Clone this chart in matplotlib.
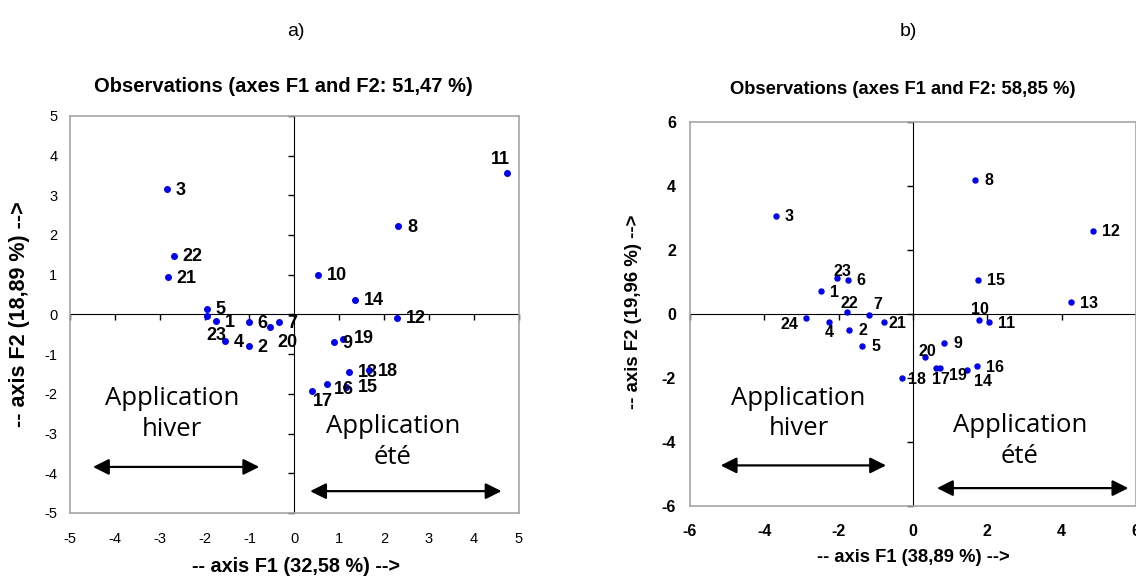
#Two PCA observation maps (winter / summer application)
import numpy as np
import matplotlib.pyplot as plt
from matplotlib.ticker import MultipleLocator

#################################################
# Data
#################################################
# a) axes F1 and F2: 51,47 %
labels_a = [str(i) for i in range(1, 24)]
f1_a = [-1.75, -1.02, -2.84, -1.55, -1.95, -1.02, -0.35, 2.31, 0.88, 0.52, 4.74, 2.28,
        1.21, 1.35, 1.16, 0.72, 0.39, 1.66, 1.09, -0.55, -2.82, -2.69, -1.95]
f2_a = [-0.17, -0.80, 3.15, -0.68, 0.14, -0.20, -0.20, 2.22, -0.70, 1.00, 3.55, -0.09,
        -1.45, 0.37, -1.83, -1.74, -1.93, -1.40, -0.61, -0.32, 0.94, 1.48, -0.05]

# b) axes F1 and F2: 58,85 %
labels_b = [str(i) for i in range(1, 25)]
f1_b = [-2.47, -1.72, -3.69, -2.26, -1.36, -1.76, -1.19, 1.67, 0.84, 1.78, 2.05, 4.83,
        4.26, 1.44, 1.74, 1.71, 0.62, -0.30, 0.72, 0.33, -0.78, -1.78, -2.05, -2.88]
f2_b = [0.70, -0.49, 3.07, -0.24, -0.99, 1.06, -0.04, 4.20, -0.90, -0.19, -0.27, 2.60,
        0.37, -1.75, 1.06, -1.64, -1.68, -2.01, -1.68, -1.36, -0.27, 0.07, 1.12, -0.13]

# label offsets in pixels (dx, dy, ha) where default placement overlaps
off_a = {'23': (0, -19, 'left'), '20': (8, -15, 'left'), '11': (3, 14, 'right'),
         '15': (11, 0, 'left'), '16': (7, -6, 'left'), '17': (1, -10, 'left'),
         '19': (11, 0, 'left')}
off_b = {'23': (-3, 7, 'left'), '22': (-6, 8, 'left'), '7': (5, 11, 'left'),
         '24': (-8, -6, 'right'), '4': (0, -11, 'center'), '20': (-7, 6, 'left'),
         '18': (6, -1, 'left'), '17': (-4, -12, 'left'), '19': (9, -8, 'left'),
         '14': (7, -12, 'left'), '10': (1, 10, 'center'), '21': (4, -1, 'left')}

plt.rcParams['font.family'] = ['Liberation Sans', 'DejaVu Sans']
plt.rcParams['axes.unicode_minus'] = False

fig = plt.figure(figsize=(11.36, 5.79), dpi=100)
fig.patch.set_facecolor('white')


def panel(rect, x, y, labs, offs, lim, step, tsize, tbold, lsize, msize, xpad, ypad):
    # zero axes with tick marks (drawn underneath)
    ax0 = fig.add_axes(rect, zorder=0)
    ax0.set_xlim(-lim, lim)
    ax0.set_ylim(-lim, lim)
    for s in ['top', 'right']:
        ax0.spines[s].set_visible(False)
    ax0.spines['left'].set_position(('data', 0))
    ax0.spines['bottom'].set_position(('data', 0))
    ax0.xaxis.set_major_locator(MultipleLocator(step))
    ax0.yaxis.set_major_locator(MultipleLocator(step))
    ax0.tick_params(direction='out', length=4, width=1, labelbottom=False, labelleft=False)

    ax = fig.add_axes(rect, zorder=1)
    ax.patch.set_visible(False)
    ax.set_xlim(-lim, lim)
    ax.set_ylim(-lim, lim)
    for s in ax.spines.values():
        s.set_color('#a6a6a6')
        s.set_linewidth(1.2)
    ax.xaxis.set_major_locator(MultipleLocator(step))
    ax.yaxis.set_major_locator(MultipleLocator(step))
    ax.tick_params(axis='x', length=0, pad=xpad, labelsize=tsize)
    ax.tick_params(axis='y', length=0, pad=ypad, labelsize=tsize)
    for t in ax.get_xticklabels() + ax.get_yticklabels():
        t.set_fontweight('bold' if tbold else 'normal')

    ax.plot(x, y, 'o', color='#0000ff', markersize=msize, linestyle='none')
    for xi, yi, lb in zip(x, y, labs):
        dx, dy, ha = offs.get(lb, (9, -1, 'left'))
        ax.annotate(lb, (xi, yi), xytext=(dx, dy), textcoords='offset pixels',
                    ha=ha, va='center', fontsize=lsize, fontweight='bold')
    return ax


axa = panel([0.0616, 0.114, 0.395, 0.686], f1_a, f2_a, labels_a, off_a, 5, 1,
            10.5, False, 13, 4, 14, 9)
axb = panel([0.6074, 0.1266, 0.3926, 0.6627], f1_b, f2_b, labels_b, off_b, 6, 2,
            11.5, True, 11.5, 3.6, 13, 10)

# arrows and annotations
arr = dict(arrowstyle='<|-|>', color='black', lw=1.6, mutation_scale=24)
afont = dict(family='Open Sans', fontsize=18.5, ha='center', va='center', linespacing=1.3)

axa.annotate('', xy=(-0.72, -3.84), xytext=(-4.55, -3.84), arrowprops=arr)
axa.annotate('', xy=(4.68, -4.45), xytext=(0.29, -4.45), arrowprops=arr)
axa.text(-2.73, -2.5, 'Application\nhiver', **afont)
axa.text(2.2, -3.22, 'Application\nété', **afont)

axb.annotate('', xy=(-0.65, -4.74), xytext=(-5.25, -4.74), arrowprops=arr)
axb.annotate('', xy=(5.87, -5.45), xytext=(0.57, -5.45), arrowprops=arr)
axb.text(-3.08, -3.12, 'Application\nhiver', **afont)
axb.text(2.88, -3.97, 'Application\nété', **afont)

# titles and axis labels
fig.text(296 / 1136, 1 - 32 / 579, 'a)', ha='center', va='center', fontsize=14)
fig.text(908 / 1136, 1 - 32 / 579, 'b)', ha='center', va='center', fontsize=14)
fig.text(283 / 1136, 1 - 86 / 579, 'Observations (axes F1 and F2: 51,47 %)',
         ha='center', va='center', fontsize=14.5, fontweight='bold')
fig.text(903 / 1136, 1 - 90 / 579, 'Observations (axes F1 and F2: 58,85 %)',
         ha='center', va='center', fontsize=13.2, fontweight='bold')
fig.text(296 / 1136, 1 - 567 / 579, '-- axis F1 (32,58 %) -->',
         ha='center', va='center', fontsize=14.3, fontweight='bold')
fig.text(913 / 1136, 1 - 558 / 579, '-- axis F1 (38,89 %) -->',
         ha='center', va='center', fontsize=13.2, fontweight='bold')
fig.text(20 / 1136, 1 - 314 / 579, '-- axis F2 (18,89 %) -->', rotation=90,
         ha='center', va='center', fontsize=15.5, fontweight='bold')
fig.text(633 / 1136, 1 - 312 / 579, '-- axis F2 (19,96 %) -->', rotation=90,
         ha='center', va='center', fontsize=13.4, fontweight='bold')

plt.savefig('out.png', dpi=100)
